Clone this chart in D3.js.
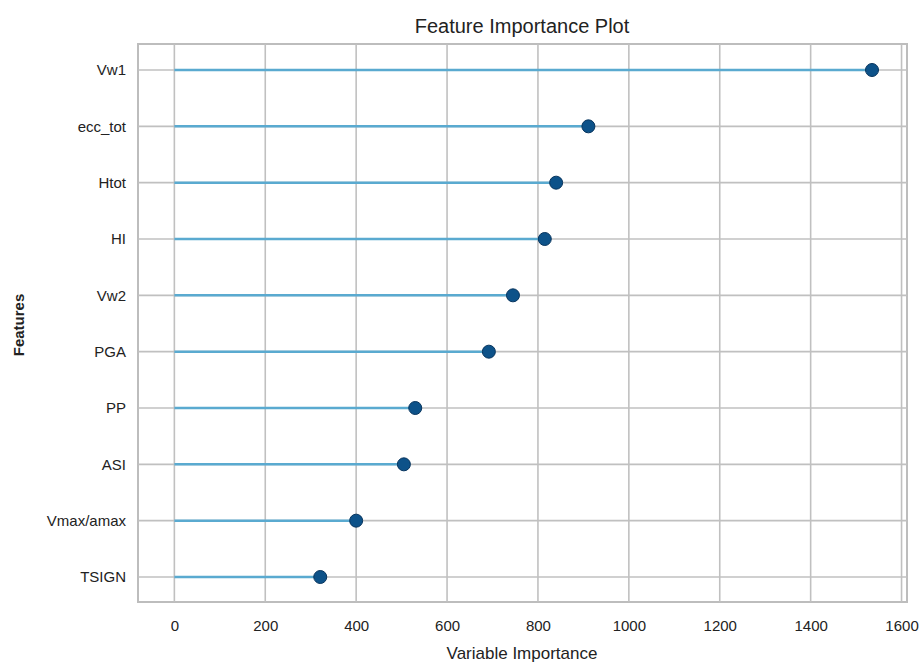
<!DOCTYPE html>
<html>
<head>
<meta charset="utf-8">
<script src="https://cdn.jsdelivr.net/npm/d3@7"></script>
<style>
  body { margin: 0; background: #fff; }
  svg text { font-family: "Liberation Sans Narrow", "Liberation Sans", sans-serif; fill: #222; }
</style>
</head>
<body>
<svg id="chart" width="920" height="663"></svg>
<script>
// data
var features = ["Vw1", "ecc_tot", "Htot", "HI", "Vw2", "PGA", "PP", "ASI", "Vmax/amax", "TSIGN"]
var importance = [1535, 911, 840, 815, 745, 692, 530, 505, 400, 321]
var xTicks = [0, 200, 400, 600, 800, 1000, 1200, 1400, 1600]

var svg = d3.select("#chart")
var frame = {left: 138, right: 907, top: 44, bottom: 602}

var x = d3.scaleLinear()
  .domain([-80, 1612])
  .range([frame.left, frame.right])

var y = d3.scalePoint()
  .domain(features)
  .range([70, 577])

// plot frame
svg.append("rect")
  .attr("x", frame.left)
  .attr("y", frame.top)
  .attr("width", frame.right - frame.left)
  .attr("height", frame.bottom - frame.top)
  .style("fill", "white")
  .style("stroke", "#bdbdbd")
  .style("stroke-width", 2)

// vertical grid
svg.append("g")
  .selectAll("line")
  .data(xTicks)
  .join("line")
  .attr("x1", d => x(d))
  .attr("x2", d => x(d))
  .attr("y1", frame.top)
  .attr("y2", frame.bottom)
  .style("stroke", "#c0c0c0")
  .style("stroke-width", 1.6)

// horizontal grid
svg.append("g")
  .selectAll("line")
  .data(features)
  .join("line")
  .attr("x1", frame.left)
  .attr("x2", frame.right)
  .attr("y1", d => y(d))
  .attr("y2", d => y(d))
  .style("stroke", "#c0c0c0")
  .style("stroke-width", 1.6)

// x axis tick labels
var xAxis = d3.axisBottom(x).tickValues(xTicks).tickFormat(d3.format("d")).tickSize(0).tickPadding(18)
var gx = svg.append("g")
  .attr("transform", "translate(0," + frame.bottom + ")")
  .call(xAxis)
gx.select(".domain").remove()
gx.selectAll("text").style("font-size", "15px").style("fill", "#222")

// y axis tick labels
var yAxis = d3.axisLeft(y).tickSize(0).tickPadding(12)
var gy = svg.append("g")
  .attr("transform", "translate(" + frame.left + ",0)")
  .call(yAxis)
gy.select(".domain").remove()
gy.selectAll("text").style("font-size", "15px").style("fill", "#222")

// stems
svg.append("g")
  .selectAll("line")
  .data(features)
  .join("line")
  .attr("x1", x(0))
  .attr("x2", (d, i) => x(importance[i]))
  .attr("y1", d => y(d))
  .attr("y2", d => y(d))
  .style("stroke", "#5aaad0")
  .style("stroke-width", 2.5)

// dots
svg.append("g")
  .selectAll("circle")
  .data(features)
  .join("circle")
  .attr("cx", (d, i) => x(importance[i]))
  .attr("cy", d => y(d))
  .attr("r", 6.5)
  .style("fill", "#0d5289")
  .style("stroke", "#08355e")
  .style("stroke-width", 1)

// title and axis labels
svg.append("text")
  .attr("x", 522)
  .attr("y", 33)
  .attr("text-anchor", "middle")
  .style("font-size", "20px")
  .text("Feature Importance Plot")

svg.append("text")
  .attr("x", 522)
  .attr("y", 659)
  .attr("text-anchor", "middle")
  .style("font-size", "17px")
  .text("Variable Importance")

svg.append("text")
  .attr("transform", "translate(24,325) rotate(-90)")
  .attr("text-anchor", "middle")
  .style("font-size", "15px")
  .style("font-weight", "bold")
  .text("Features")
</script>
</body>
</html>
